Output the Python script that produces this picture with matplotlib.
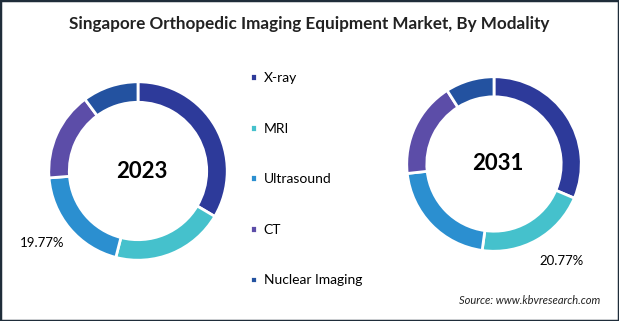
import matplotlib.pyplot as plt
from matplotlib.patches import Rectangle

plt.rcParams['font.family'] = ['Lato', 'DejaVu Sans']

modalities = ['X-ray', 'MRI', 'Ultrasound', 'CT', 'Nuclear Imaging']
share_2023 = [33.5, 20.5, 19.77, 16.1, 10.13]
share_2031 = [31.4, 20.77, 21.1, 17.7, 9.03]
colors = ['#2D3A9A', '#45C1CC', '#2B8FD0', '#5C4DA8', '#2352A0']

W, H = 619, 321
fig = plt.figure(figsize=(W / 100, H / 100), dpi=100)
fig.patch.set_facecolor('white')

def donut(cx, cy, r, values, year):
    ax = fig.add_axes([(cx - r) / W, 1 - (cy + r) / H, 2 * r / W, 2 * r / H])
    wedges, _ = ax.pie(values, colors=colors, startangle=90, counterclock=False,
                       radius=1, wedgeprops=dict(width=0.23, edgecolor='white', linewidth=2))
    ax.set_xlim(-1.02, 1.02)
    ax.set_ylim(-1.02, 1.02)
    ax.set_aspect('equal')
    ax.axis('off')
    ax.text(0.04, 0.0, year, ha='center', va='center', fontsize=16, fontweight='bold')
    return wedges

wedges = donut(138, 171, 91, share_2023, '2023')
donut(494, 164, 89, share_2031, '2031')

fig.text(42 / W, 1 - 243 / H, f'{share_2023[2]:.2f}%', ha='center', va='center', fontsize=9.5)
fig.text(562 / W, 1 - 261 / H, f'{share_2031[1]:.2f}%', ha='center', va='center', fontsize=9.5)

fig.text(0.5, 1 - 24 / H, 'Singapore Orthopedic Imaging Equipment Market, By Modality',
         ha='center', va='center', fontsize=12.3, fontweight='bold', color='#222222')

fig.legend(wedges, modalities, loc='upper left', bbox_to_anchor=(243 / W, 1 - 65 / H),
           frameon=False, fontsize=10, handlelength=0.5, handleheight=0.5,
           handletextpad=0.5, labelspacing=2.78, borderpad=0)

fig.text(600 / W, 1 - 301 / H, 'Source: www.kbvresearch.com', ha='right', va='center',
         fontsize=8, fontstyle='italic', color='#222222')

fig.add_artist(Rectangle((0, 0), 1, 1, transform=fig.transFigure, fill=False,
                         edgecolor='#1F2D3A', linewidth=2.5))

fig.savefig('out.png', dpi=100)
